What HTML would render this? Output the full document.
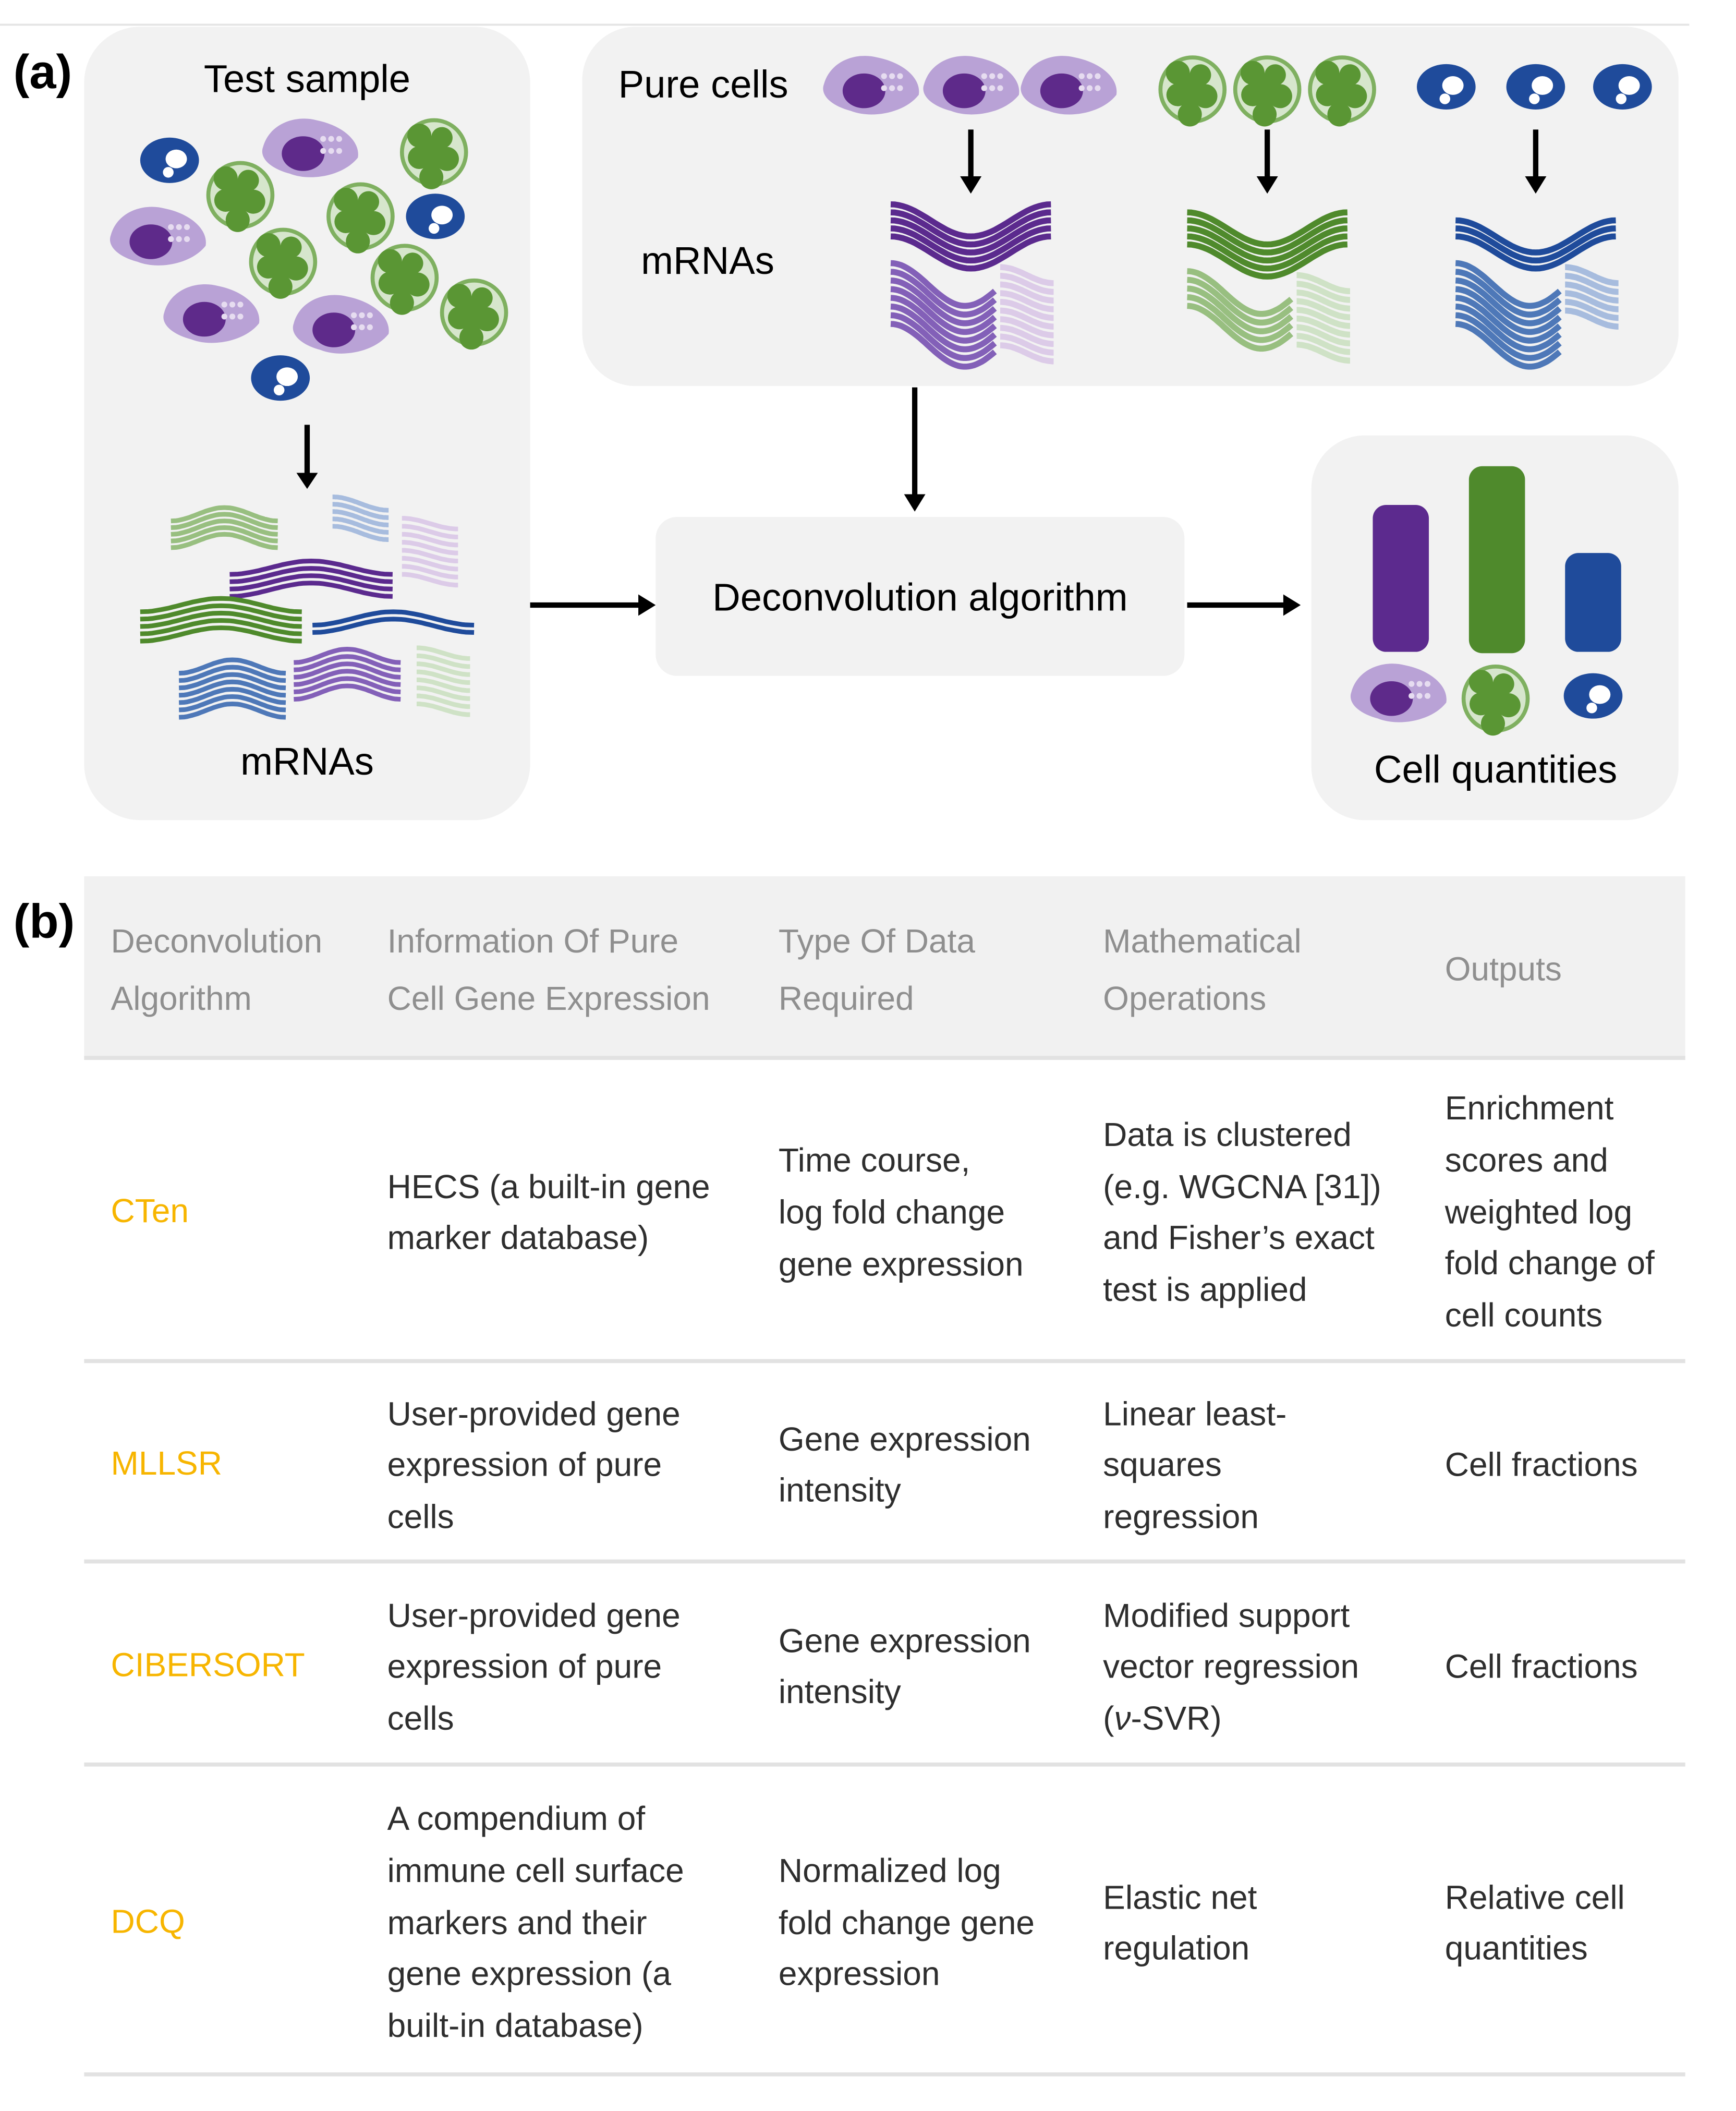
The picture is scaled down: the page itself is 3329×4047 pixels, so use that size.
<!DOCTYPE html>
<html><head><meta charset="utf-8"><style>
html,body{margin:0;padding:0;background:#fff;}
svg{display:block;}
text{font-family:"Liberation Sans",sans-serif;}
.h{fill:#8f8f8f;font-size:25px;}
.b{fill:#2e2e2e;font-size:25px;}
.o{fill:#f7b500;font-size:25px;}
.d{fill:#000;font-size:29px;}
</style></head><body>
<svg id="s" width="3329" height="4047" viewBox="0 0 1300 1580.4" preserveAspectRatio="none" xmlns="http://www.w3.org/2000/svg">
<rect width="1300" height="1581" fill="#fff"/>
<line x1="0" y1="18.5" x2="1265" y2="18.5" stroke="#e4e4e4" stroke-width="1.5"/>
<text x="10" y="66" style="font-size:36px;font-weight:bold">(a)</text>
<text x="10" y="702" style="font-size:36px;font-weight:bold">(b)</text>
<rect x="63" y="20" width="334" height="594" rx="42" fill="#f2f2f2"/>
<rect x="436" y="20" width="821" height="269" rx="40" fill="#f2f2f2"/>
<rect x="491" y="387" width="396" height="119" rx="16" fill="#f2f2f2"/>
<rect x="982" y="326" width="275" height="288" rx="40" fill="#f2f2f2"/>
<text class="d" x="230" y="69" text-anchor="middle">Test sample</text>
<text class="d" x="230" y="580" text-anchor="middle">mRNAs</text>
<text class="d" x="463" y="73">Pure cells</text>
<text class="d" x="480" y="205">mRNAs</text>
<text class="d" x="689" y="457" text-anchor="middle">Deconvolution algorithm</text>
<text class="d" x="1120" y="586" text-anchor="middle">Cell quantities</text>
<g stroke="#000" stroke-width="4" fill="none">
<line x1="230" y1="318" x2="230" y2="356"/>
<line x1="685" y1="290" x2="685" y2="372"/>
<line x1="397" y1="453" x2="480" y2="453"/>
<line x1="889" y1="453" x2="963" y2="453"/>
<line x1="727" y1="97" x2="727" y2="134"/>
<line x1="949" y1="97" x2="949" y2="134"/>
<line x1="1150" y1="97" x2="1150" y2="134"/>
</g>
<g fill="#000">
<path d="M222,354 L238,354 L230,366 z"/>
<path d="M677,370 L693,370 L685,383 z"/>
<path d="M478,445 L478,461 L491,453 z"/>
<path d="M961,445 L961,461 L974,453 z"/>
<path d="M719,132 L735,132 L727,145 z"/>
<path d="M941,132 L957,132 L949,145 z"/>
<path d="M1142,132 L1158,132 L1150,145 z"/>
</g>
<rect x="1028" y="378" width="42" height="110" rx="10" fill="#5c2a8e"/>
<rect x="1100" y="349" width="42" height="140" rx="10" fill="#4f8a2c"/>
<rect x="1172" y="414" width="42" height="74" rx="10" fill="#1f4b9b"/>
<g id="waves"></g>
<g id="cells"></g>
<rect x="63" y="656" width="1199" height="136" fill="#f1f1f1"/>
<line x1="63" y1="792" x2="1262" y2="792" stroke="#e2e2e2" stroke-width="3"/>
<g stroke="#e2e2e2" stroke-width="3">
<line x1="63" y1="1019" x2="1262" y2="1019"/>
<line x1="63" y1="1169" x2="1262" y2="1169"/>
<line x1="63" y1="1321" x2="1262" y2="1321"/>
<line x1="63" y1="1553" x2="1262" y2="1553"/>
</g>
<text class="h" x="83" y="713">Deconvolution</text><text class="h" x="83" y="756">Algorithm</text>
<text class="h" x="290" y="713">Information Of Pure</text><text class="h" x="290" y="756">Cell Gene Expression</text>
<text class="h" x="583" y="713">Type Of Data</text><text class="h" x="583" y="756">Required</text>
<text class="h" x="826" y="713">Mathematical</text><text class="h" x="826" y="756">Operations</text>
<text class="h" x="1082" y="734">Outputs</text>

<text class="o" x="83" y="915">CTen</text>
<text class="b" x="290" y="897">HECS (a built-in gene</text><text class="b" x="290" y="935">marker database)</text>
<text class="b" x="583" y="877">Time course,</text><text class="b" x="583" y="916">log fold change</text><text class="b" x="583" y="955">gene expression</text>
<text class="b" x="826" y="858">Data is clustered</text><text class="b" x="826" y="897">(e.g. WGCNA [31])</text><text class="b" x="826" y="935">and Fisher’s exact</text><text class="b" x="826" y="974">test is applied</text>
<text class="b" x="1082" y="838">Enrichment</text><text class="b" x="1082" y="877">scores and</text><text class="b" x="1082" y="916">weighted log</text><text class="b" x="1082" y="954">fold change of</text><text class="b" x="1082" y="993">cell counts</text>

<text class="o" x="83" y="1104">MLLSR</text>
<text class="b" x="290" y="1067">User-provided gene</text><text class="b" x="290" y="1105">expression of pure</text><text class="b" x="290" y="1144">cells</text>
<text class="b" x="583" y="1086">Gene expression</text><text class="b" x="583" y="1124">intensity</text>
<text class="b" x="826" y="1067">Linear least-</text><text class="b" x="826" y="1105">squares</text><text class="b" x="826" y="1144">regression</text>
<text class="b" x="1082" y="1105">Cell fractions</text>

<text class="o" x="83" y="1255">CIBERSORT</text>
<text class="b" x="290" y="1218">User-provided gene</text><text class="b" x="290" y="1256">expression of pure</text><text class="b" x="290" y="1295">cells</text>
<text class="b" x="583" y="1237">Gene expression</text><text class="b" x="583" y="1275">intensity</text>
<text class="b" x="826" y="1218">Modified support</text><text class="b" x="826" y="1256">vector regression</text><text class="b" x="826" y="1295">(<tspan font-style="italic">ν</tspan>-SVR)</text>
<text class="b" x="1082" y="1256">Cell fractions</text>

<text class="o" x="83" y="1447">DCQ</text>
<text class="b" x="290" y="1370">A compendium of</text><text class="b" x="290" y="1409">immune cell surface</text><text class="b" x="290" y="1448">markers and their</text><text class="b" x="290" y="1486">gene expression (a</text><text class="b" x="290" y="1525">built-in database)</text>
<text class="b" x="583" y="1409">Normalized log</text><text class="b" x="583" y="1448">fold change gene</text><text class="b" x="583" y="1486">expression</text>
<text class="b" x="826" y="1429">Elastic net</text><text class="b" x="826" y="1467">regulation</text>
<text class="b" x="1082" y="1429">Relative cell</text><text class="b" x="1082" y="1467">quantities</text>
</svg>
<script>
(function(){
var NS="http://www.w3.org/2000/svg";
var W=document.getElementById("waves"),C=document.getElementById("cells");
function el(p,t,a){var e=document.createElementNS(NS,t);for(var k in a)e.setAttribute(k,a[k]);p.appendChild(e);return e;}
function bundle(x,y,w,amp,n,gap,col,sw,per,ph){
 for(var i=0;i<n;i++){var pts=[];for(var j=0;j<=40;j++){var t=j/40;pts.push((x+t*w).toFixed(1)+","+(y+i*gap+amp/2*(1-Math.cos(2*Math.PI*per*t+(ph||0)))).toFixed(1));}
 el(W,"polyline",{points:pts.join(" "),fill:"none",stroke:col,"stroke-width":sw});}
}
var sets=[[667,["#5b2a8e","#8360b8","#dccbe8"]],[889,["#4f8a2c","#98bf80","#cfe2c6"]],[1090,["#1f4b9b","#4e78b8","#a7bcde"]]];
sets.forEach(function(s,k){var x=s[0],c=s[1];
 var n1=k==2?3:5;
 bundle(x,153+(k==0?0:k==1?6:12),120,24,n1,6,c[0],4.5,1,0);
 bundle(x,197+(k==1?6:0),78,32,k==1?5:8,6.5,c[1],4.5,0.7,0);
 bundle(x+82,200+(k==1?6:0),40,12,k==1?9:(k==2?6:10),6.5,c[2],4.5,0.5,0);
});
bundle(128,380,80,10,5,5,"#98bf80",3.5,1,Math.PI);
bundle(249,372,42,10,5,5.5,"#a7bcde",3.5,0.5,0);
bundle(301,388,42,8,8,6,"#dccbe8",3.5,0.5,0);
bundle(172,420,122,10,4,5.5,"#5b2a8e",3.5,1,Math.PI);
bundle(105,448,121,10,5,5.5,"#4f8a2c",3.5,1,Math.PI);
bundle(234,458,121,10,2,5.5,"#1f4b9b",3.5,1,Math.PI);
bundle(134,494,80,10,7,5.5,"#4e78b8",3.5,1,Math.PI);
bundle(220,486,80,10,6,5.5,"#8360b8",3.5,1,Math.PI);
bundle(312,485,40,8,8,6,"#cfe2c6",3.5,0.5,0);
function purple(x,y){
 el(C,"path",{d:"M"+(x-35)+","+(y-2)+" C"+(x-30)+","+(y-20)+" "+(x-10)+","+(y-26)+" "+(x+5)+","+(y-22)+" C"+(x+25)+","+(y-18)+" "+(x+38)+","+(y-6)+" "+(x+36)+","+(y+6)+" C"+(x+25)+","+(y+20)+" "+(x)+","+(y+24)+" "+(x-15)+","+(y+18)+" C"+(x-30)+","+(y+14)+" "+(x-38)+","+(y+6)+" "+(x-35)+","+(y-2)+"z",fill:"#b9a2d6"});
 el(C,"ellipse",{cx:x-5,cy:y+3,rx:16,ry:13,fill:"#5e2a8a"});
 for(var i=0;i<6;i++)el(C,"circle",{cx:x+10+(i%3)*6,cy:y-8+Math.floor(i/3)*9,r:2.2,fill:"#e6dcf0"});
}
function green(x,y){
 el(C,"circle",{cx:x,cy:y,r:24,fill:"#d6e6cc",stroke:"#7fb060","stroke-width":3});
 el(C,"path",{d:"M"+(x-14)+","+(y-4)+" a9,9 0 1,1 12,-8 a8,8 0 1,1 12,8 a9,9 0 1,1 -6,16 a9,9 0 1,1 -12,0 a8,8 0 1,1 -6,-16z",fill:"#5a9634"});
}
function blue(x,y){
 el(C,"ellipse",{cx:x,cy:y,rx:22,ry:17,fill:"#1f4b9b"});
 el(C,"ellipse",{cx:x+5,cy:y-1,rx:8,ry:7,fill:"#fff"});
 el(C,"circle",{cx:x-1,cy:y+9,r:4,fill:"#fff"});
}
[[127,120],[326,162],[210,283],[1083,65],[1150,65],[1215,65],[1193,521]].forEach(function(p){blue(p[0],p[1]);});
[[232,112],[118,178],[158,236],[255,244],[652,65],[727,65],[800,65],[1047,520]].forEach(function(p){purple(p[0],p[1]);});
[[180,146],[270,162],[212,196],[303,208],[325,114],[355,234],[893,67],[949,67],[1005,67],[1120,523]].forEach(function(p){green(p[0],p[1]);});
})();
</script>
</body></html>
